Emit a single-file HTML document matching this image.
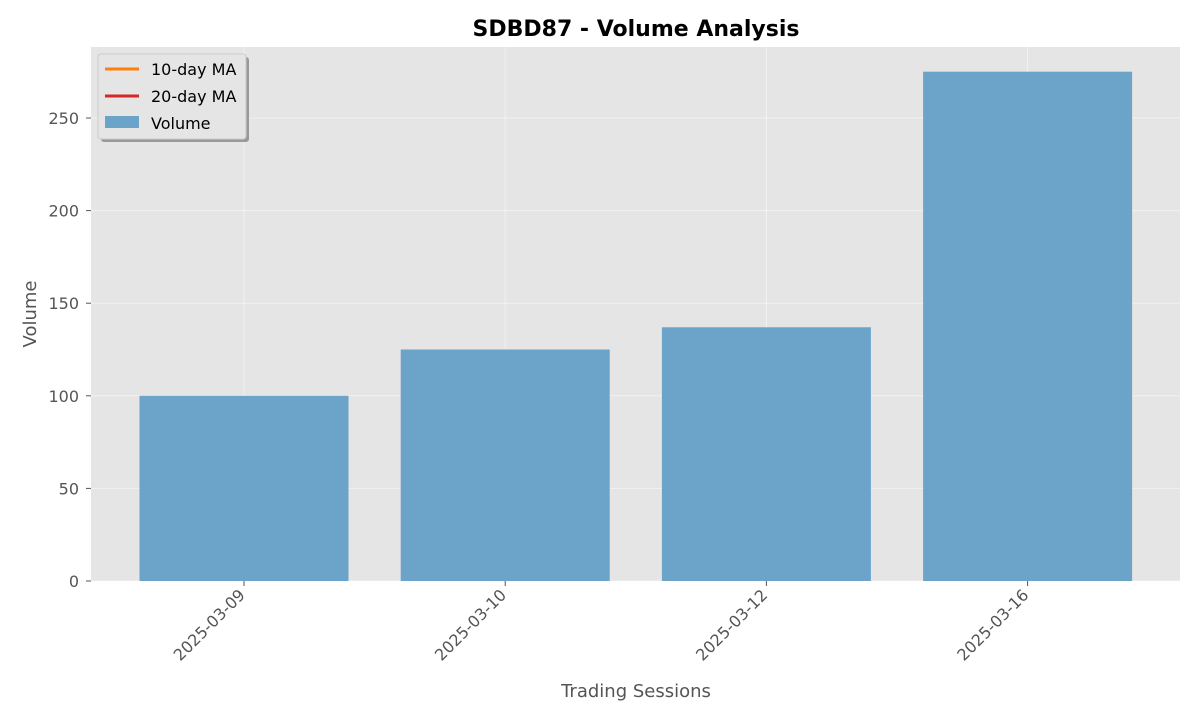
<!DOCTYPE html>
<html><head><meta charset="utf-8"><style>
body{margin:0;background:#fff;width:1200px;height:720px;overflow:hidden;font-family:"Liberation Sans","DejaVu Sans",sans-serif}
</style></head><body>
<svg id="chart" width="1200" height="720" xmlns="http://www.w3.org/2000/svg" font-family="DejaVu Sans, Liberation Sans, sans-serif">
<rect x="91" y="47" width="1089" height="534" fill="#e5e5e5"/>
<g id="grid"></g>
<g id="bars"></g>
<g id="axes"></g>
<text x="636" y="36" text-anchor="middle" font-size="22" font-weight="bold" fill="#000">SDBD87 - Volume Analysis</text>
<text x="636" y="697" text-anchor="middle" font-size="18" fill="#555">Trading Sessions</text>
<text transform="translate(36,314) rotate(-90)" text-anchor="middle" font-size="18" fill="#555">Volume</text>
<g>
<rect x="101" y="57" width="148" height="85" rx="3" fill="#999"/>
<rect x="98" y="54" width="148" height="85" rx="3" fill="#e5e5e5" stroke="#ccc"/>
<line x1="105" y1="69" x2="139" y2="69" stroke="#ff7f0e" stroke-width="3"/>
<text x="151" y="75" font-size="16" fill="#000">10-day MA</text>
<line x1="105" y1="96" x2="139" y2="96" stroke="#d62728" stroke-width="3"/>
<text x="151" y="102" font-size="16" fill="#000">20-day MA</text>
<rect x="105" y="116" width="34" height="12" fill="#6ca3c9"/>
<text x="151" y="129" font-size="16" fill="#000">Volume</text>
</g>
</svg>
<script>
const categories=["2025-03-09","2025-03-10","2025-03-12","2025-03-16"];
const volumes=[100,125,137,275];
const yTicks=[0,50,100,150,200,250];
const NS="http://www.w3.org/2000/svg";
const y0=581,pxPerUnit=463/250;
function yScale(v){return y0-v*pxPerUnit;}
function xScale(i){return 244+261.2*i;}
const barW=209;
function mk(tag,attrs,parent){const e=document.createElementNS(NS,tag);for(const k in attrs)e.setAttribute(k,attrs[k]);parent.appendChild(e);return e;}
const grid=document.getElementById('grid'),bars=document.getElementById('bars'),axes=document.getElementById('axes');
yTicks.forEach(t=>{
  const y=yScale(t);
  const g=mk('line',{x1:91,x2:1180,y1:y,y2:y,stroke:'#fff','stroke-opacity':0.45},grid);
  
  
  mk('line',{x1:86,x2:91,y1:y,y2:y,stroke:'#555'},axes);
  const tx=mk('text',{x:79,y:y+6,'text-anchor':'end','font-size':16,fill:'#555'},axes);
  tx.textContent=t;
  
  
});
categories.forEach((c,i)=>{
  const x=xScale(i);
  const g=mk('line',{x1:x,x2:x,y1:47,y2:581,stroke:'#fff','stroke-opacity':0.45},grid);
  
  
  const b=mk('rect',{x:x-barW/2,y:yScale(volumes[i]),width:barW,height:y0-yScale(volumes[i]),fill:'#6ca3c9'},bars);
  
  
  mk('line',{x1:x,x2:x,y1:581,y2:586,stroke:'#555'},axes);
  const ax=x+2, ay=596;
  const tx=mk('text',{x:ax,y:ay,'text-anchor':'end','font-size':16,fill:'#555',transform:`rotate(-45 ${ax} ${ay})`},axes);
  tx.textContent=c;
  
  
});
</script>
</body></html>
